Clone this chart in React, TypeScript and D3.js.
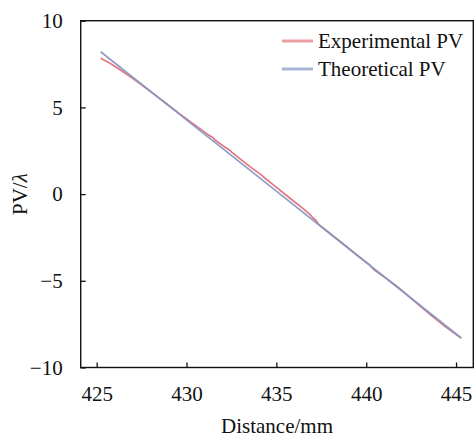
import React, { useEffect, useRef } from 'react';
import * as d3 from 'd3';

// measured series, distance in mm, PV in wavelengths
const expDistance = [425.22, 425.74, 426.3, 427.02, 427.78, 428.8, 429.64, 430.47, 431.14, 431.5, 431.58, 432.08, 432.45, 432.51, 432.98, 433.64, 434.2, 434.27, 434.92, 435.76, 436.42, 436.87, 437.04, 437.21, 437.32, 437.99, 438.73, 439.49, 440.21, 440.4, 440.93, 441.88, 442.71, 443.55, 444.38, 445.3];
const expPV = [7.83, 7.55, 7.17, 6.66, 6.08, 5.28, 4.61, 3.98, 3.47, 3.24, 3.12, 2.75, 2.5, 2.42, 2.03, 1.5, 1.08, 1.0, 0.46, -0.24, -0.78, -1.17, -1.38, -1.52, -1.72, -2.27, -2.88, -3.52, -4.1, -4.33, -4.72, -5.46, -6.2, -6.93, -7.62, -8.32];

const theoDistance = [425.22, 430, 435, 440, 445.27];
const theoPV = [8.21, 4.28, 0.17, -3.94, -8.28];

const xTicks = [425, 430, 435, 440, 445];
const yTicks = [-10, -5, 0, 5, 10];

const seriesNames = ['Experimental PV', 'Theoretical PV'];
const seriesColors = ['#e3767f', '#8395c3'];

export default function App() {
  const ref = useRef<SVGSVGElement>(null);

  useEffect(() => {
    const width = 474;
    const height = 437;
    const left = 80.7;
    const right = 473.3;
    const top = 20.7;
    const bottom = 367.5;
    const font = '"Liberation Serif", "Times New Roman", serif';

    const svg = d3.select(ref.current);
    svg.selectAll('*').remove();
    svg.attr('width', width).attr('height', height);

    const x = d3.scaleLinear().domain([424.11, 445.96]).range([left, right]);
    const y = d3.scaleLinear().domain([-10, 10]).range([bottom, top]);

    const line = d3
      .line<[number, number]>()
      .x(d => x(d[0]))
      .y(d => y(d[1]));

    const expData = expDistance.map((d, i) => [d, expPV[i]] as [number, number]);
    const theoData = theoDistance.map((d, i) => [d, theoPV[i]] as [number, number]);

    svg
      .append('path')
      .datum(expData)
      .attr('fill', 'none')
      .attr('stroke', seriesColors[0])
      .attr('stroke-width', 1.7)
      .attr('stroke-linejoin', 'round')
      .attr('d', line);

    svg
      .append('path')
      .datum(theoData)
      .attr('fill', 'none')
      .attr('stroke', seriesColors[1])
      .attr('stroke-width', 1.8)
      .attr('opacity', 0.9)
      .attr('d', line);

    // x axis, ticks point inward
    const gx = svg
      .append('g')
      .attr('transform', `translate(0,${bottom})`)
      .attr('font-family', font)
      .call(d3.axisBottom(x).tickValues(xTicks).tickSizeInner(-5).tickSizeOuter(0).tickPadding(19));
    gx.select('.domain').remove();

    const gy = svg
      .append('g')
      .attr('transform', `translate(${left},0)`)
      .attr('font-family', font)
      .call(d3.axisLeft(y).tickValues(yTicks).tickSizeInner(-5).tickSizeOuter(0).tickPadding(18));
    gy.select('.domain').remove();

    svg.selectAll('.tick line').attr('stroke', '#111').attr('stroke-width', 1.3);
    svg
      .selectAll('.tick text')
      .attr('fill', '#111')
      .style('font-family', font)
      .style('font-size', '21px');

    // frame
    svg
      .append('rect')
      .attr('x', left)
      .attr('y', top)
      .attr('width', right - left)
      .attr('height', bottom - top)
      .attr('fill', 'none')
      .attr('stroke', '#111')
      .attr('stroke-width', 1.4);

    // axis titles
    svg
      .append('text')
      .attr('x', (left + right) / 2)
      .attr('y', 433)
      .attr('text-anchor', 'middle')
      .style('font-family', font)
      .style('font-size', '21px')
      .attr('fill', '#111')
      .text('Distance/mm');

    const yt = svg
      .append('text')
      .attr('transform', `translate(27,${(top + bottom) / 2}) rotate(-90)`)
      .attr('text-anchor', 'middle')
      .style('font-family', font)
      .style('font-size', '21px')
      .attr('fill', '#111');
    yt.append('tspan').text('PV/');
    yt.append('tspan').style('font-style', 'italic').text('λ');

    // legend
    const legend = svg.append('g');
    seriesNames.forEach((name, i) => {
      const ly = 41 + i * 28;
      legend
        .append('line')
        .attr('x1', 282)
        .attr('x2', 313)
        .attr('y1', ly)
        .attr('y2', ly)
        .attr('stroke', seriesColors[i])
        .attr('stroke-width', 3)
        .attr('opacity', 0.7);
      legend
        .append('text')
        .attr('x', 318)
        .attr('y', ly)
        .attr('dy', '0.35em')
        .style('font-family', font)
        .style('font-size', '21px')
        .attr('fill', '#111')
        .text(name);
    });
  }, []);

  return (
    <div style={{ position: 'absolute', left: 0, top: 0, background: '#fff' }}>
      <svg ref={ref} />
    </div>
  );
}
